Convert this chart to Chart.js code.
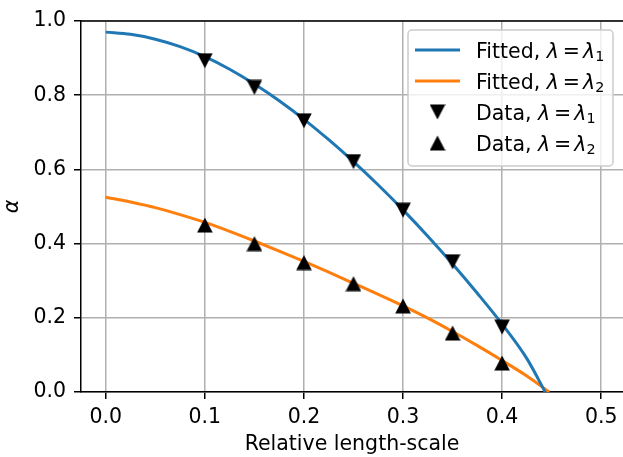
<!DOCTYPE html>
<html>
<head>
<meta charset="utf-8">
<script src="https://cdn.jsdelivr.net/npm/chart.js@4.4.1/dist/chart.umd.min.js"></script>
<style>
  html, body { margin: 0; padding: 0; background: #fff; overflow: hidden; }
  canvas { display: block; }
</style>
</head>
<body>
<canvas id="chart" width="623" height="457"></canvas>
<script>
// fitted curves
const blueX = [0, 0.025, 0.05, 0.075, 0.1, 0.125, 0.15, 0.175, 0.2, 0.225, 0.25, 0.275, 0.3, 0.325, 0.35, 0.375, 0.4, 0.425, 0.4435];
const blueY = [0.970, 0.964, 0.951, 0.931, 0.904, 0.870, 0.830, 0.785, 0.735, 0.680, 0.621, 0.558, 0.491, 0.420, 0.345, 0.266, 0.183, 0.090, 0.0];
const orangeX = [0, 0.025, 0.05, 0.075, 0.1, 0.125, 0.15, 0.175, 0.2, 0.225, 0.25, 0.275, 0.3, 0.325, 0.35, 0.375, 0.4, 0.425, 0.4475];
const orangeY = [0.525, 0.512, 0.497, 0.478, 0.457, 0.433, 0.407, 0.380, 0.352, 0.323, 0.293, 0.263, 0.232, 0.199, 0.163, 0.125, 0.085, 0.043, 0.0];

// measured points
const dataX = [0.1, 0.15, 0.2, 0.25, 0.3, 0.35, 0.4];
const dataL1 = [0.893, 0.821, 0.731, 0.621, 0.490, 0.351, 0.175];
const dataL2 = [0.450, 0.400, 0.349, 0.292, 0.232, 0.159, 0.078];

const xTicks = [0, 0.1, 0.2, 0.3, 0.4, 0.5];
const yTicks = [0, 0.2, 0.4, 0.6, 0.8, 1.0];

const legendPrefix = ["Fitted, ", "Fitted, ", "Data, ", "Data, "];
const legendSub = ["1", "2", "1", "2"];

const BLUE = "#1f77b4";
const ORANGE = "#ff7f0e";
const FONT = "DejaVu Sans";
const FS = 20.5;

function toPoints(xs, ys) {
  return xs.map((x, i) => ({ x: x, y: ys[i] }));
}

// matplotlib-like triangle, centred on its bounding box
function triangleMarker(down) {
  const c = document.createElement("canvas");
  c.width = 16;
  c.height = 16;
  const g = c.getContext("2d");
  g.fillStyle = "#000";
  g.beginPath();
  if (down) {
    g.moveTo(0.2, 0.5);
    g.lineTo(15.8, 0.5);
    g.lineTo(8, 15.6);
  } else {
    g.moveTo(8, 0.4);
    g.lineTo(15.8, 15.5);
    g.lineTo(0.2, 15.5);
  }
  g.closePath();
  g.fill();
  return c;
}

const markDown = triangleMarker(true);
const markUp = triangleMarker(false);

// top spine; the right one sits just past the edge of the picture
const frame = {
  id: "frame",
  afterDatasetsDraw(chart) {
    const { ctx, chartArea: a } = chart;
    ctx.save();
    ctx.strokeStyle = "#000";
    ctx.lineWidth = 1.5;
    ctx.beginPath();
    ctx.moveTo(a.left, a.top);
    ctx.lineTo(a.right, a.top);
    ctx.stroke();
    ctx.restore();
  },
};

const legendBox = {
  id: "legendBox",
  afterDraw(chart) {
    const ctx = chart.ctx;
    ctx.save();
    ctx.beginPath();
    ctx.roundRect(408, 30, 205, 136, 4);
    ctx.fillStyle = "rgba(255,255,255,0.8)";
    ctx.fill();
    ctx.lineWidth = 1.5;
    ctx.strokeStyle = "#cccccc";
    ctx.stroke();

    chart.data.datasets.forEach((ds, i) => {
      const rowY = 50 + 31 * i;
      if (ds.showLine) {
        ctx.strokeStyle = ds.borderColor;
        ctx.lineWidth = 3;
        ctx.beginPath();
        ctx.moveTo(415, rowY);
        ctx.lineTo(460, rowY);
        ctx.stroke();
      } else {
        ctx.drawImage(ds.pointStyle, 437.5 - 8, rowY - 8);
      }

      const base = rowY + 7.5;
      let x = 476;
      ctx.fillStyle = "#000";
      ctx.textBaseline = "alphabetic";
      ctx.textAlign = "left";
      ctx.font = `${FS}px "${FONT}"`;
      ctx.fillText(legendPrefix[i], x, base);
      x += ctx.measureText(legendPrefix[i]).width;
      ctx.font = `italic ${FS}px "${FONT}"`;
      ctx.fillText("λ", x, base);
      x += ctx.measureText("λ").width + 4;
      ctx.font = `${FS}px "${FONT}"`;
      ctx.fillText("=", x, base);
      x += ctx.measureText("=").width + 3;
      ctx.font = `italic ${FS}px "${FONT}"`;
      ctx.fillText("λ", x, base);
      x += ctx.measureText("λ").width;
      ctx.font = `${FS * 0.7}px "${FONT}"`;
      ctx.fillText(legendSub[i], x, base + 3);
    });
    ctx.restore();
  },
};

new Chart(document.getElementById("chart"), {
  type: "scatter",
  data: {
    datasets: [
      {
        label: "Fitted, λ = λ₁",
        data: toPoints(blueX, blueY),
        showLine: true,
        borderColor: BLUE,
        borderWidth: 3,
        pointRadius: 0,
        cubicInterpolationMode: "monotone",
        order: 2,
      },
      {
        label: "Fitted, λ = λ₂",
        data: toPoints(orangeX, orangeY),
        showLine: true,
        borderColor: ORANGE,
        borderWidth: 3,
        pointRadius: 0,
        cubicInterpolationMode: "monotone",
        order: 3,
      },
      {
        label: "Data, λ = λ₁",
        data: toPoints(dataX, dataL1),
        showLine: false,
        pointStyle: markDown,
        pointRadius: 8,
        order: 0,
      },
      {
        label: "Data, λ = λ₂",
        data: toPoints(dataX, dataL2),
        showLine: false,
        pointStyle: markUp,
        pointRadius: 8,
        order: 1,
      },
    ],
  },
  options: {
    responsive: false,
    animation: false,
    devicePixelRatio: 1,
    layout: { autoPadding: false, padding: { left: 0, top: 21, right: 0, bottom: 0 } },
    plugins: { legend: { display: false }, tooltip: { enabled: false } },
    scales: {
      x: {
        type: "linear",
        min: -0.025,
        max: 0.522,
        afterBuildTicks: (s) => {
          s.ticks = xTicks.map((v) => ({ value: v }));
        },
        afterFit: (s) => {
          s.height = 65;
          s.paddingLeft = 0;
          s.paddingRight = 0;
        },
        grid: { color: "#b0b0b0", lineWidth: 1.5, tickColor: "#000", tickWidth: 1.5, tickLength: 7 },
        border: { color: "#000", width: 1.5 },
        ticks: {
          color: "#000",
          padding: 6,
          maxRotation: 0,
          autoSkip: false,
          font: { family: FONT, size: FS },
          callback: (v) => v.toFixed(1),
        },
        title: {
          display: true,
          text: "Relative length-scale",
          color: "#000",
          padding: 0,
          font: { family: FONT, size: FS },
        },
      },
      y: {
        type: "linear",
        min: 0,
        max: 1,
        afterBuildTicks: (s) => {
          s.ticks = yTicks.map((v) => ({ value: v }));
        },
        afterFit: (s) => {
          s.width = 81;
          s.paddingTop = 0;
          s.paddingBottom = 0;
        },
        grid: { color: "#b0b0b0", lineWidth: 1.5, tickColor: "#000", tickWidth: 1.5, tickLength: 7 },
        border: { color: "#000", width: 1.5 },
        ticks: {
          color: "#000",
          padding: 8,
          autoSkip: false,
          font: { family: FONT, size: FS },
          callback: (v) => v.toFixed(1),
        },
        title: {
          display: true,
          text: "α",
          color: "#000",
          padding: 0,
          font: { family: FONT, size: FS, style: "italic" },
        },
      },
    },
  },
  plugins: [frame, legendBox],
});
</script>
</body>
</html>
